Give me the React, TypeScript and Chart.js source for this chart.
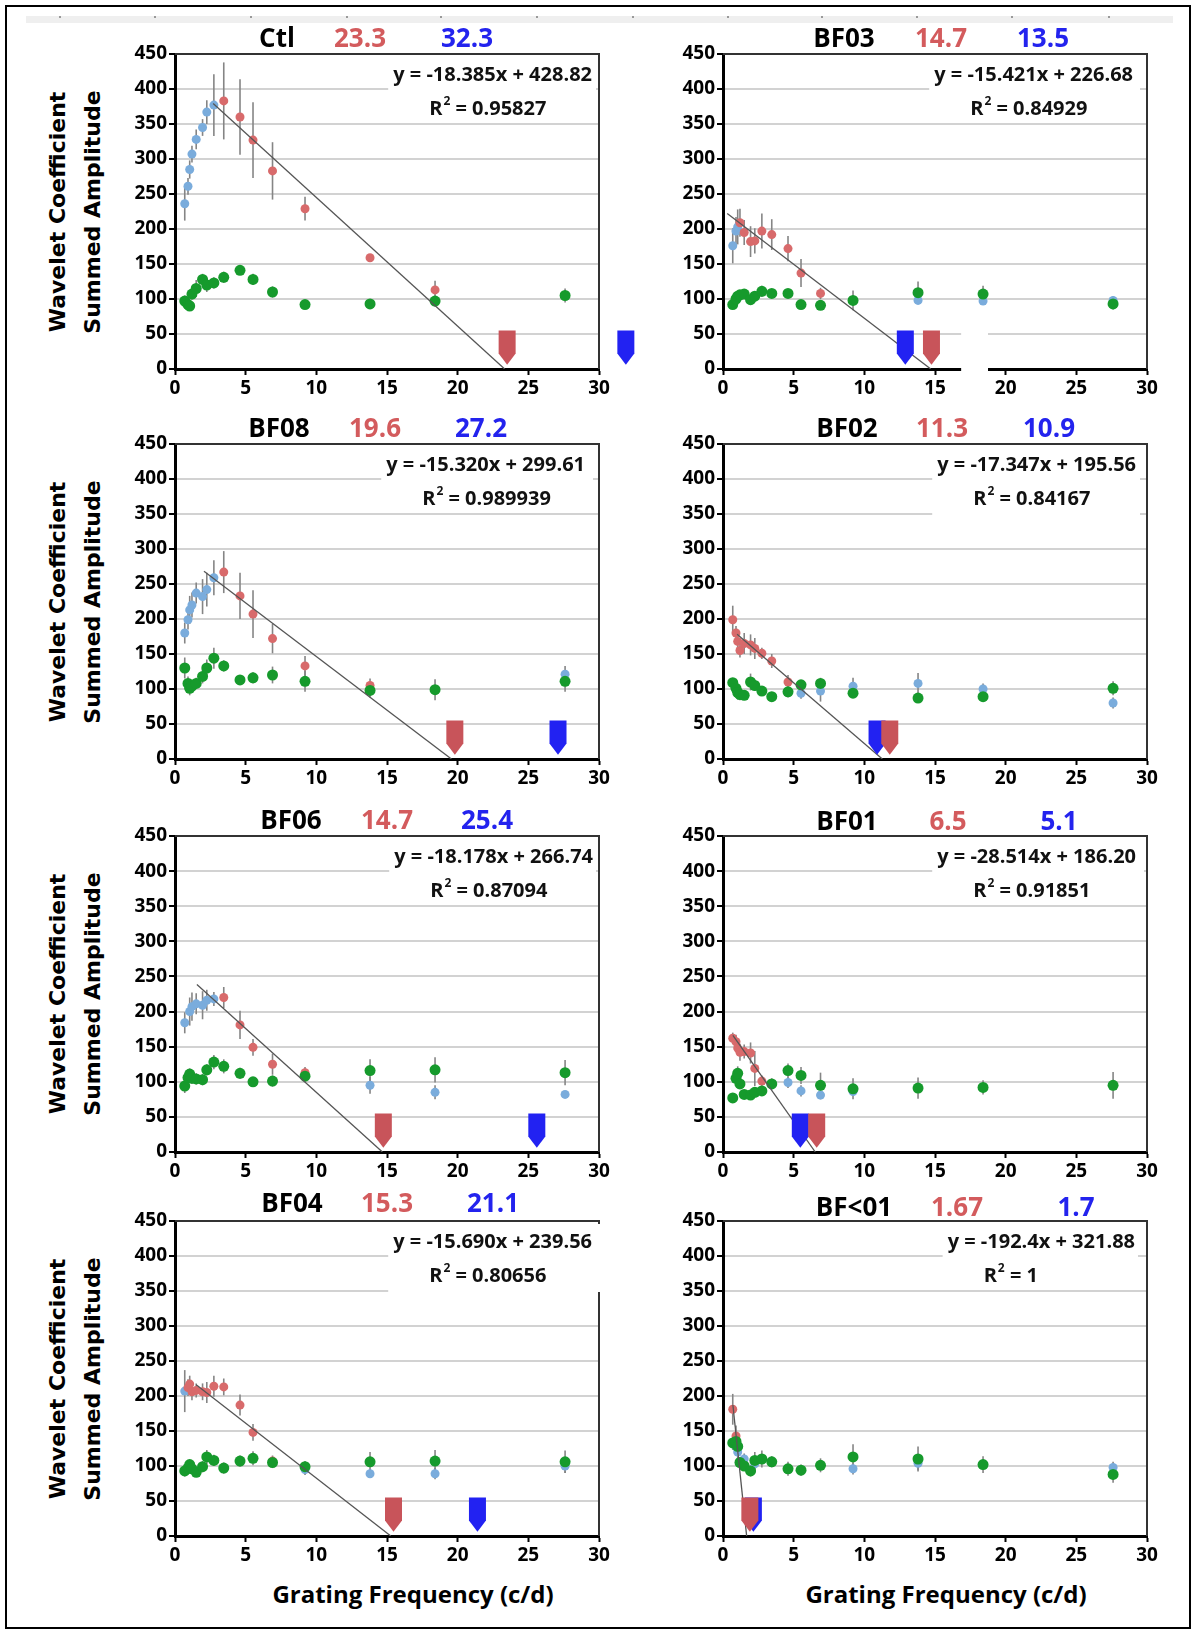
import React, { useEffect, useRef } from "react";
import { Chart, registerables } from "chart.js";
Chart.register(...registerables);

const _ = null;

// ---------- shared axes ----------
const FREQ = [0.69, 0.92, 1.04, 1.2, 1.5, 1.95, 2.25, 2.75, 3.45, 4.6, 5.52, 6.9, 9.2, 13.8, 18.4, 27.6];
const X_TICKS = [0, 5, 10, 15, 20, 25, 30];
const Y_TICKS = [0, 50, 100, 150, 200, 250, 300, 350, 400, 450];

// ---------- panel labels ----------
const PANEL_NAMES = ["Ctl", "BF03", "BF08", "BF02", "BF06", "BF01", "BF04", "BF<01"];
const RED_THRESH = ["23.3", "14.7", "19.6", "11.3", "14.7", "6.5", "15.3", "1.67"];
const BLUE_THRESH = ["32.3", "13.5", "27.2", "10.9", "25.4", "5.1", "21.1", "1.7"];
const RED_MARK_X = [23.5, 14.75, 19.8, 11.8, 14.74, 6.63, 15.46, 1.9];
const BLUE_MARK_X = [31.9, 12.9, 27.1, 10.9, 25.6, 5.47, 21.4, 2.15];
const SLOPES = [-18.385, -15.421, -15.32, -17.347, -18.178, -28.514, -15.69, -192.4];
const INTERCEPTS = [428.82, 226.68, 299.61, 195.56, 266.74, 186.2, 239.56, 321.88];
const FIT_START = [2.7, 0.3, 2.05, 1.0, 1.55, 0.7, 1.5, 0.7];
const EQ_LABELS = [
  "y = -18.385x + 428.82",
  "y = -15.421x + 226.68",
  "y = -15.320x + 299.61",
  "y = -17.347x + 195.56",
  "y = -18.178x + 266.74",
  "y = -28.514x + 186.20",
  "y = -15.690x + 239.56",
  "y = -192.4x + 321.88",
];
const R2_LABELS = ["0.95827", "0.84929", "0.989939", "0.84167", "0.87094", "0.91851", "0.80656", "1"];

// ---------- Ctl ----------
const CTL_BLUE = [236, 261, 285, 307, 328, 345, 367, 377, _, _, _, _, _, _, _, _];
const CTL_BLUE_ERR = [24, 12, 13, 12, 14, 12, 17, 44, _, _, _, _, _, _, _, _];
const CTL_RED = [_, _, _, _, _, _, _, _, 383, 360, 327, 283, 229, 159, 113, _];
const CTL_RED_ERR = [_, _, _, _, _, _, _, _, 55, 54, 54, 41, 17, 5, 13, _];
const CTL_GREEN = [97, 92, 90, 107, 115, 128, 120, 123, 131, 141, 128, 110, 92, 93, 97, 105];
const CTL_GREEN_ERR = [8, 6, 6, 8, 12, 8, 10, 8, 8, 6, 8, 8, 5, 5, 8, 10];

// ---------- BF03 ----------
const BF03_BLUE = [176, 197, 203, _, _, _, _, _, _, _, _, _, _, 98, 97, 98];
const BF03_BLUE_ERR = [25, 20, 25, _, _, _, _, _, _, _, _, _, _, 5, 5, 6];
const BF03_RED = [_, _, _, 209, 195, 182, 183, 197, 192, 172, 137, 108, _, _, _, _];
const BF03_RED_ERR = [_, _, _, 20, 18, 22, 18, 25, 22, 18, 20, 8, _, _, _, _];
const BF03_GREEN = [92, 100, 104, 106, 107, 99, 104, 111, 108, 108, 92, 91, 98, 109, 107, 93];
const BF03_GREEN_ERR = [5, 5, 5, 5, 5, 5, 5, 8, 5, 5, 6, 5, 14, 16, 12, 8];

// ---------- BF08 ----------
const BF08_BLUE = [180, 199, 213, 220, 237, 232, 242, 259, _, _, _, _, _, _, _, 121];
const BF08_BLUE_ERR = [15, 14, 20, 18, 15, 25, 24, 25, _, _, _, _, _, _, _, 12];
const BF08_RED = [_, _, _, _, _, _, _, _, 267, 233, 207, 172, 133, 105, _, _];
const BF08_RED_ERR = [_, _, _, _, _, _, _, _, 30, 33, 34, 21, 14, 10, _, _];
const BF08_GREEN = [130, 108, 101, 104, 108, 118, 130, 144, 133, 113, 116, 120, 111, 98, 99, 111];
const BF08_GREEN_ERR = [15, 10, 10, 8, 8, 10, 12, 15, 8, 6, 8, 12, 15, 10, 15, 15];

// ---------- BF02 ----------
const BF02_BLUE = [_, _, _, _, _, _, _, _, _, _, 94, 97, 104, 108, 100, 80];
const BF02_BLUE_ERR = [_, _, _, _, _, _, _, _, _, _, 8, 15, 12, 15, 8, 8];
const BF02_RED = [199, 180, 168, 155, 165, 163, 158, 151, 140, 110, _, _, _, _, _, _];
const BF02_RED_ERR = [20, 10, 10, 10, 15, 15, 15, 8, 10, 10, _, _, _, _, _, _];
const BF02_GREEN = [109, 101, 95, 92, 91, 110, 105, 97, 89, 96, 106, 108, 94, 87, 89, 101];
const BF02_GREEN_ERR = [6, 6, 10, 8, 6, 12, 8, 6, 6, 8, 6, 8, 6, 6, 6, 10];

// ---------- BF06 ----------
const BF06_BLUE = [184, _, 200, 207, 211, 209, 216, 218, _, _, _, _, _, 95, 85, 82];
const BF06_BLUE_ERR = [15, _, 20, 20, 15, 20, 15, 10, _, _, _, _, _, 12, 10, 5];
const BF06_RED = [_, _, _, _, _, _, _, _, 220, 181, 149, 125, 113, _, _, _];
const BF06_RED_ERR = [_, _, _, _, _, _, _, _, 15, 20, 12, 15, 8, _, _, _];
const BF06_GREEN = [94, 106, 111, 105, 104, 103, 117, 128, 122, 112, 100, 101, 108, 116, 117, 113];
const BF06_GREEN_ERR = [10, 8, 8, 8, 8, 8, 8, 10, 10, 8, 6, 8, 8, 16, 18, 18];

// ---------- BF01 ----------
const BF01_BLUE = [_, _, _, _, _, _, _, _, _, 99, 87, 81, 86, _, _, _];
const BF01_BLUE_ERR = [_, _, _, _, _, _, _, _, _, 8, 8, 6, 6, _, _, _];
const BF01_RED = [162, 157, 148, 142, 143, 141, 119, 101, _, _, _, _, _, _, _, _];
const BF01_RED_ERR = [8, 10, 10, 12, 10, 15, 25, 8, _, _, _, _, _, _, _, _];
const BF01_GREEN = [77, 105, 112, 97, 82, 81, 85, 87, 97, 116, 109, 95, 90, 91, 92, 95];
const BF01_GREEN_ERR = [6, 8, 10, 6, 6, 6, 6, 6, 8, 10, 12, 18, 15, 15, 10, 19];

// ---------- BF04 ----------
const BF04_BLUE = [207, _, _, _, _, _, _, _, _, _, _, _, 95, 89, 89, 100];
const BF04_BLUE_ERR = [30, _, _, _, _, _, _, _, _, _, _, _, 8, 6, 8, 10];
const BF04_RED = [_, 212, 217, 206, 208, 206, 205, 214, 213, 187, 148, 107, _, _, _, _];
const BF04_RED_ERR = [_, 12, 12, 12, 10, 12, 15, 15, 12, 15, 12, 8, _, _, _, _];
const BF04_GREEN = [93, 97, 102, 96, 91, 99, 113, 108, 97, 107, 111, 105, 99, 106, 107, 106];
const BF04_GREEN_ERR = [8, 6, 6, 6, 6, 8, 10, 8, 8, 8, 10, 8, 8, 14, 16, 16];

// ---------- BF<01 ----------
const BFLT01_BLUE = [_, 128, 120, _, 110, _, 103, _, _, _, _, _, 96, 104, _, 98];
const BFLT01_BLUE_ERR = [_, 10, 10, _, 8, _, 12, _, _, _, _, _, 8, 10, _, 8];
const BFLT01_RED = [181, 143, _, _, _, _, _, _, _, _, _, _, _, _, _, _];
const BFLT01_RED_ERR = [22, 15, _, _, _, _, _, _, _, _, _, _, _, _, _, _];
const BFLT01_GREEN = [133, 135, 128, 105, 100, 93, 108, 110, 106, 96, 94, 101, 113, 110, 102, 88];
const BFLT01_GREEN_ERR = [10, 12, 8, 8, 6, 8, 12, 12, 8, 10, 8, 10, 18, 18, 12, 12];

type Pt = { x: number; y: number; e: number | null };
function pts(vals: (number | null)[], errs: (number | null)[]): Pt[] {
  const out: Pt[] = [];
  FREQ.forEach((f, i) => {
    const v = vals[i];
    if (v == null) return;
    out.push({ x: f, y: v, e: errs[i] == null ? null : (errs[i] as number) });
  });
  return out;
}

const SERIES = [
  [CTL_BLUE, CTL_BLUE_ERR, CTL_RED, CTL_RED_ERR, CTL_GREEN, CTL_GREEN_ERR],
  [BF03_BLUE, BF03_BLUE_ERR, BF03_RED, BF03_RED_ERR, BF03_GREEN, BF03_GREEN_ERR],
  [BF08_BLUE, BF08_BLUE_ERR, BF08_RED, BF08_RED_ERR, BF08_GREEN, BF08_GREEN_ERR],
  [BF02_BLUE, BF02_BLUE_ERR, BF02_RED, BF02_RED_ERR, BF02_GREEN, BF02_GREEN_ERR],
  [BF06_BLUE, BF06_BLUE_ERR, BF06_RED, BF06_RED_ERR, BF06_GREEN, BF06_GREEN_ERR],
  [BF01_BLUE, BF01_BLUE_ERR, BF01_RED, BF01_RED_ERR, BF01_GREEN, BF01_GREEN_ERR],
  [BF04_BLUE, BF04_BLUE_ERR, BF04_RED, BF04_RED_ERR, BF04_GREEN, BF04_GREEN_ERR],
  [BFLT01_BLUE, BFLT01_BLUE_ERR, BFLT01_RED, BFLT01_RED_ERR, BFLT01_GREEN, BFLT01_GREEN_ERR],
];

// ---------- layout / style ----------
const COLS = [
  { L: 175, R: 599, cx: 105, cw: 565, xTitle: 413 },
  { L: 723, R: 1147, cx: 663, cw: 527, xTitle: 946 },
];
const ROWS = [
  { T: 54, B: 369 },
  { T: 444, B: 759 },
  { T: 836, B: 1152 },
  { T: 1221, B: 1536 },
];
const TITLE_DX = [
  [102, 185, 292], [121, 218, 320], [104, 200, 306], [124, 219, 326],
  [116, 212, 312], [124, 225, 336], [117, 212, 318], [131, 234, 353],
];
const TITLE_DY = [17, 17, 17, 17, 17, 16, 19, 15];
const EQ_INSET = [7, 14, 14, 11, 6, 11, 7, 12];
const BOX_INSET = [3, 7, 6, 7, 3, 3, -5, 9];
const BOX_H = [58, 58, 58, 70, 58, 58, 68, 58];
const STRIP_MARKS = [59, 154, 250, 346, 440, 536, 632, 727, 821, 916, 1011, 1108];

const Y_AXIS_W = 50;
const X_AXIS_H = 36;
const PAD_T = 16;
const PAD_B = 4;

const BLUE_PT = "#7aacdc";
const RED_PT = "#d86a6b";
const GREEN_PT = "#169a2c";
const RED_MARK = "#c8545a";
const BLUE_MARK = "#2222f2";
const SANS = "'Open Sans', 'DejaVu Sans', sans-serif";
const EQ_FONT = `bold 20px ${SANS}`;

function makePlugin(i: number) {
  return {
    id: "decor" + i,
    beforeDatasetsDraw(chart: any) {
      const { ctx, chartArea: a, scales } = chart;
      const xs = scales.x, ys = scales.y;
      ctx.save();
      // top & right frame
      ctx.strokeStyle = "#333";
      ctx.lineWidth = 2;
      ctx.beginPath();
      ctx.moveTo(a.left, a.top);
      ctx.lineTo(a.right, a.top);
      ctx.lineTo(a.right, a.bottom);
      ctx.stroke();
      // equation box
      ctx.font = EQ_FONT;
      const eq = EQ_LABELS[i];
      const eqW = ctx.measureText(eq).width;
      const eqRight = a.right - EQ_INSET[i];
      const eqLeft = eqRight - eqW;
      ctx.fillStyle = "#fff";
      const bx0 = eqLeft - 5;
      const bx1 = a.right - BOX_INSET[i];
      ctx.fillRect(bx0, a.top + 3, bx1 - bx0, BOX_H[i]);
      if (i === 1) {
        // white patch breaking the axis
        const px0 = xs.getPixelForValue(16.85);
        const px1 = xs.getPixelForValue(18.75);
        const py0 = ys.getPixelForValue(52);
        ctx.fillRect(px0, py0, px1 - px0, a.bottom + 4 - py0);
      }
      ctx.fillStyle = "#111";
      ctx.textBaseline = "middle";
      ctx.textAlign = "left";
      ctx.fillText(eq, eqLeft, a.top + 21);
      let rx = eqLeft + 36;
      const ry = a.top + 55;
      ctx.fillText("R", rx, ry);
      rx += ctx.measureText("R").width + 1;
      ctx.font = `bold 12px ${SANS}`;
      ctx.fillText("2", rx, ry - 7);
      rx += ctx.measureText("2").width;
      ctx.font = EQ_FONT;
      ctx.fillText(" = " + R2_LABELS[i], rx, ry);
      // error bars
      ctx.strokeStyle = "#858585";
      ctx.lineWidth = 1.6;
      chart.data.datasets.forEach((ds: any) => {
        if (!ds.errBars) return;
        ds.data.forEach((p: Pt) => {
          if (p.e == null) return;
          const px = xs.getPixelForValue(p.x);
          ctx.beginPath();
          ctx.moveTo(px, ys.getPixelForValue(p.y + p.e));
          ctx.lineTo(px, ys.getPixelForValue(p.y - p.e));
          ctx.stroke();
        });
      });
      ctx.restore();
    },
    afterDatasetsDraw(chart: any) {
      const { ctx, scales } = chart;
      const xs = scales.x, ys = scales.y;
      const draw = (mx: number, color: string) => {
        const cx = xs.getPixelForValue(mx);
        const top = ys.getPixelForValue(55);
        const sh = ys.getPixelForValue(22);
        const tip = ys.getPixelForValue(6);
        const hw = 8.5;
        ctx.fillStyle = color;
        ctx.beginPath();
        ctx.moveTo(cx - hw, top);
        ctx.lineTo(cx + hw, top);
        ctx.lineTo(cx + hw, sh);
        ctx.lineTo(cx, tip);
        ctx.lineTo(cx - hw, sh);
        ctx.closePath();
        ctx.fill();
      };
      ctx.save();
      draw(BLUE_MARK_X[i], BLUE_MARK);
      draw(RED_MARK_X[i], RED_MARK);
      ctx.restore();
    },
  };
}

function Panel({ i }: { i: number }) {
  const ref = useRef<HTMLCanvasElement>(null);
  const col = COLS[i % 2];
  const row = ROWS[Math.floor(i / 2)];
  const cy = row.T - PAD_T;
  const ch = PAD_T + (row.B - row.T) + X_AXIS_H + PAD_B;

  useEffect(() => {
    const canvas = ref.current as HTMLCanvasElement;
    const s = SERIES[i];
    const m = SLOPES[i];
    const b = INTERCEPTS[i];
    const x0 = FIT_START[i];
    const tickFont = { family: SANS, size: 19, weight: "bold" as const };
    const chart = new Chart(canvas, {
      type: "scatter",
      data: {
        datasets: [
          { label: "blue", data: pts(s[0], s[1]), pointBackgroundColor: BLUE_PT, pointBorderWidth: 0, pointRadius: 4.5, order: 4, errBars: true } as any,
          { label: "red", data: pts(s[2], s[3]), pointBackgroundColor: RED_PT, pointBorderWidth: 0, pointRadius: 4.5, order: 3, errBars: true } as any,
          { label: "green", data: pts(s[4], s[5]), pointBackgroundColor: GREEN_PT, pointBorderWidth: 0, pointRadius: 5.5, order: 2, errBars: true } as any,
          {
            label: "fit",
            data: [{ x: x0, y: m * x0 + b }, { x: -b / m, y: 0 }],
            showLine: true,
            borderColor: "#555",
            borderWidth: 1.3,
            pointRadius: 0,
            order: 1,
          } as any,
        ],
      },
      options: {
        animation: false,
        responsive: false,
        maintainAspectRatio: false,
        events: [],
        layout: {
          padding: {
            left: col.L - col.cx - Y_AXIS_W,
            right: col.cx + col.cw - col.R,
            top: PAD_T,
            bottom: PAD_B,
          },
        },
        plugins: { legend: { display: false }, tooltip: { enabled: false } },
        scales: {
          x: {
            type: "linear",
            min: X_TICKS[0],
            max: X_TICKS[X_TICKS.length - 1],
            ticks: { stepSize: X_TICKS[1] - X_TICKS[0], font: tickFont, color: "#000", padding: 2, maxRotation: 0, autoSkip: false },
            grid: { drawOnChartArea: false, drawTicks: true, tickLength: 6, tickColor: "#000", tickWidth: 2 },
            border: { display: true, color: "#000", width: 3 },
            afterFit: (sc: any) => { sc.height = X_AXIS_H; },
          },
          y: {
            type: "linear",
            min: Y_TICKS[0],
            max: Y_TICKS[Y_TICKS.length - 1],
            ticks: { stepSize: Y_TICKS[1] - Y_TICKS[0], font: tickFont, color: "#000", padding: 2 },
            grid: { color: "#d2d2d2", lineWidth: 2, drawTicks: true, tickLength: 6, tickColor: "#000", tickWidth: 2 },
            border: { display: true, color: "#000", width: 3 },
            afterFit: (sc: any) => { sc.width = Y_AXIS_W; },
          },
        },
      } as any,
      plugins: [makePlugin(i)],
    });
    return () => chart.destroy();
  }, [i]);

  const tdx = TITLE_DX[i];
  const ty = row.T - TITLE_DY[i];
  const titleStyle = (x: number, color: string): React.CSSProperties => ({
    position: "absolute",
    left: col.L + x,
    top: ty,
    transform: "translate(-50%, -50%)",
    font: `bold 26px ${SANS}`,
    color,
    whiteSpace: "nowrap",
    lineHeight: "30px",
  });

  return (
    <>
      <canvas
        ref={ref}
        width={col.cw}
        height={ch}
        style={{ position: "absolute", left: col.cx, top: cy, width: col.cw, height: ch }}
      />
      <div style={titleStyle(tdx[0], "#000")}>{PANEL_NAMES[i]}</div>
      <div style={titleStyle(tdx[1], "#d35b5d")}>{RED_THRESH[i]}</div>
      <div style={titleStyle(tdx[2], "#2323ee")}>{BLUE_THRESH[i]}</div>
    </>
  );
}

export default function App() {
  return (
    <div
      style={{
        position: "absolute",
        left: 0,
        top: 0,
        width: 1195,
        height: 1635,
        background: "#fff",
        overflow: "hidden",
      }}
    >
      <div
        style={{
          position: "absolute",
          left: 5,
          top: 5,
          width: 1182,
          height: 1620,
          border: "2px solid #000",
        }}
      />
      <div style={{ position: "absolute", left: 26, top: 16, width: 1147, height: 7, background: "#efefef" }} />
      {STRIP_MARKS.map((x, k) => (
        <div key={k} style={{ position: "absolute", left: x, top: 16, width: 2, height: 2, background: "#999" }} />
      ))}
      {ROWS.map((r, k) => (
        <div
          key={"yt" + k}
          style={{
            position: "absolute",
            left: 75,
            top: (r.T + r.B) / 2,
            transform: "translate(-50%, -50%) rotate(-90deg)",
            font: "bold 22px 'DejaVu Sans', sans-serif",
            lineHeight: "35px",
            textAlign: "center",
            whiteSpace: "nowrap",
            color: "#000",
          }}
        >
          Wavelet Coefficient
          <br />
          Summed Amplitude
        </div>
      ))}
      {COLS.map((c, k) => (
        <div
          key={"xt" + k}
          style={{
            position: "absolute",
            left: c.xTitle,
            top: 1593,
            transform: "translate(-50%, -50%)",
            font: `bold 24px ${SANS}`,
            whiteSpace: "nowrap",
            color: "#000",
          }}
        >
          Grating Frequency (c/d)
        </div>
      ))}
      {PANEL_NAMES.map((_n, i) => (
        <Panel key={i} i={i} />
      ))}
    </div>
  );
}
